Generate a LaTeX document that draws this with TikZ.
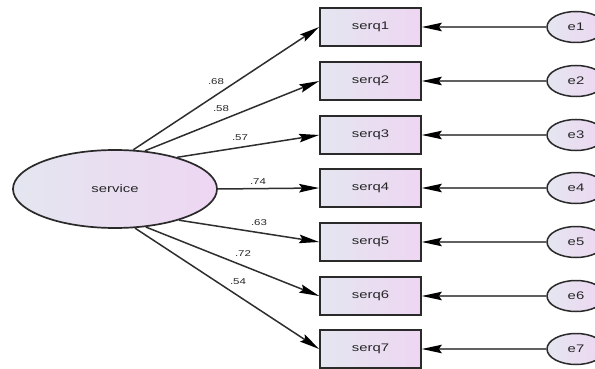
\documentclass[tikz,border=0pt]{standalone}
\usepackage{fontspec}
\setmainfont{Liberation Sans}
\usetikzlibrary{arrows.meta,shapes.geometric}
\definecolor{fillL}{HTML}{E4E6F0}
\definecolor{fillR}{HTML}{EED6F2}
\definecolor{edgec}{HTML}{2A2A2A}
\definecolor{linec}{HTML}{2E2E2E}
\definecolor{errc}{HTML}{606060}
\definecolor{txtc}{HTML}{262626}
\newcommand{\wtxt}[1]{\scalebox{1.35}[1]{#1}}
\tikzset{
  obsbox/.style={draw=edgec, line width=1.7pt, rectangle, minimum width=101pt, minimum height=38pt,
    inner sep=0pt, left color=fillL, right color=fillR, text=txtc, font=\fontsize{11}{12}\selectfont},
  latent/.style={draw=edgec, line width=1.7pt, ellipse, minimum width=204pt, minimum height=78pt,
    inner sep=0pt, left color=fillL, right color=fillR, text=txtc, font=\fontsize{11}{12}\selectfont},
  errnode/.style={draw=edgec, line width=1.5pt, ellipse, minimum width=58pt, minimum height=31pt,
    inner sep=0pt, left color=fillL, right color=fillR, text=txtc, font=\fontsize{11}{12}\selectfont},
  tipstyle/.style={-{Stealth[length=20pt,width=8.5pt,inset=3pt,color=black]}},
  loadarrow/.style={draw=linec, line width=1.5pt, tipstyle},
  errarrow/.style={draw=errc, line width=1.5pt, tipstyle},
  coef/.style={text=txtc, font=\fontsize{8.5}{10}\selectfont, inner sep=0pt}
}
\begin{document}
\begin{tikzpicture}[x=1pt,y=-1pt]
\useasboundingbox (0,0) rectangle (595,369);
\node[latent] (service) at (115,189) {\wtxt{service}};
\foreach \i/\y in {1/27,2/81,3/135,4/188,5/242,6/296,7/349}{
  \node[obsbox] (serq\i) at (370.5,\y) {\wtxt{serq\i}};
  \node[errnode] (e\i) at (576,\y) {\wtxt{e\i}};
  \draw[errarrow] (e\i) -- (serq\i);
}
\draw[loadarrow] (service.65) -- (serq1.west);
\draw[loadarrow] (service.52) -- (serq2.west);
\draw[loadarrow] (service.27) -- (serq3.west);
\draw[loadarrow] (service.0) -- (serq4.west);
\draw[loadarrow] (service.-26) -- (serq5.west);
\draw[loadarrow] (service.-51) -- (serq6.west);
\draw[loadarrow] (service.-63) -- (serq7.west);
\node[coef] (c1) at (216,82) {\wtxt{.68}};
\node[coef] (c2) at (221,109) {\wtxt{.58}};
\node[coef] (c3) at (240,138) {\wtxt{.57}};
\node[coef] (c4) at (258,182) {\wtxt{.74}};
\node[coef] (c5) at (259,223) {\wtxt{.63}};
\node[coef] (c6) at (243,254) {\wtxt{.72}};
\node[coef] (c7) at (238,282) {\wtxt{.54}};
\end{tikzpicture}
\end{document}
